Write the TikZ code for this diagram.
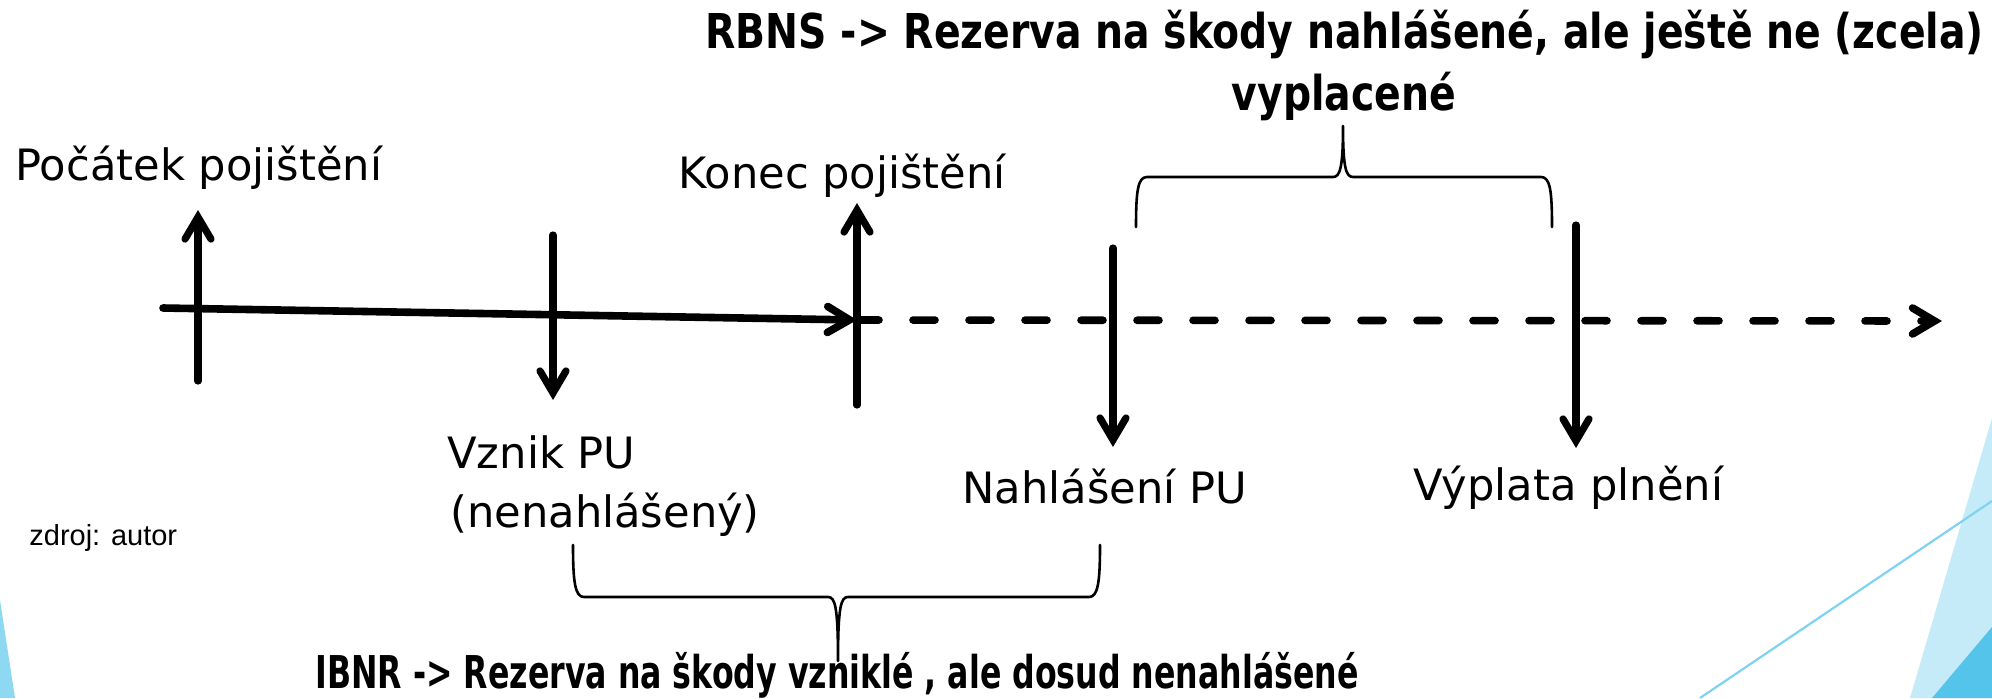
\documentclass[tikz,border=0pt]{standalone}
\usepackage{fontspec}
\setmainfont{DejaVu Sans}
\newfontfamily\headfont{DejaVu Sans}[FakeStretch=0.82]
\newfontfamily\footheadfont{DejaVu Sans}[FakeStretch=0.70]
\newfontfamily\notefont{Liberation Sans}
\usetikzlibrary{arrows.meta}

\definecolor{wedgelight}{HTML}{C6EBF8}
\definecolor{wedgedark}{HTML}{54C4EA}
\definecolor{wedgeline}{HTML}{7FD3F0}
\definecolor{wedgeleft}{HTML}{8ED8F1}

\begin{document}
\begin{tikzpicture}[x=0.5pt,y=-0.5pt,
  barb/.tip={Straight Barb[length=11pt,width=13pt,line cap=round,line join=miter]},
  axisline/.style={line width=3.8pt,line cap=round,-barb},
  dashline/.style={axisline,dash pattern=on 11pt off 17pt},
  tick/.style={line width=3.6pt,line cap=round},
  tickarrow/.style={tick,-barb},
  bracepath/.style={line width=1.3pt,line cap=round,line join=round},
  event/.style={inner sep=0pt,anchor=base west,font=\fontsize{21.6pt}{26pt}\selectfont},
  heading/.style={inner sep=0pt,font=\headfont\bfseries\fontsize{24pt}{29pt}\selectfont},
  footheading/.style={inner sep=0pt,font=\footheadfont\bfseries\fontsize{22.6pt}{27pt}\selectfont},
  note/.style={inner sep=0pt,anchor=base west,font=\notefont\fontsize{14.5pt}{17pt}\selectfont}]

\useasboundingbox (0,0) rectangle (1992,698);

% corner ornaments
\fill[wedgeleft] (0,600) -- (15,698) -- (0,698) -- cycle;
\fill[wedgelight] (1910,698) -- (1992,418) -- (1992,698) -- cycle;
\fill[wedgedark] (1932,698) -- (1992,627) -- (1992,698) -- cycle;
\draw[wedgeline,line width=1.1pt] (1700,698) -- (1992,501);

% time axis: insured period (solid), afterwards (dashed)
\coordinate (axisstart) at (163,308);
\coordinate (axisend) at (857,320);
\coordinate (axisfar) at (1942,321);
\draw[axisline] (axisstart) -- (axisend);
\draw[dashline] (axisend) -- (axisfar);

% event markers
\coordinate (p1) at (198,381);  \coordinate (p2) at (198,210);
\coordinate (v1) at (553,235);  \coordinate (v2) at (553,400);
\coordinate (k1) at (857,405);  \coordinate (k2) at (857,203);
\coordinate (n1) at (1113,248); \coordinate (n2) at (1113,447);
\coordinate (w1) at (1576,225); \coordinate (w2) at (1576,448);
\draw[tickarrow] (p1) -- (p2);
\draw[tickarrow] (v1) -- (v2);
\draw[tickarrow] (k1) -- (k2);
\draw[tickarrow] (n1) -- (n2);
\draw[tickarrow] (w1) -- (w2);

% event labels
\node[event] (pocatek) at (15,180) {Počátek pojištění};
\node[event] (konec) at (678,188) {Konec pojištění};
\node[event] (vznik) at (447,468) {Vznik PU};
\node[event] (vznikb) at (450,527) {(nenahlášený)};
\node[event] (nahlaseni) at (962,503) {Nahlášení PU};
\node[event] (vyplata) at (1413,500) {Výplata plnění};
\node[note] (zdroj) at (29,545) {zdroj: autor};

% RBNS brace (over the reported-but-unpaid span)
\draw[bracepath] (1136,227) .. controls (1136,190) and (1138,177) .. (1147,177)
  -- (1333,177) .. controls (1340,177) and (1343,168) .. (1343,126)
  .. controls (1343,168) and (1346,177) .. (1353,177)
  -- (1541,177) .. controls (1550,177) and (1552,190) .. (1552,227);
\node[heading,anchor=base west] (rbns) at (705,48) {RBNS -> Rezerva na škody nahlášené, ale ještě ne (zcela)};
\node[heading,anchor=base] (rbnsb) at (1344,110) {vyplacené};

% IBNR brace (under the incurred-but-not-reported span)
\draw[bracepath] (573,545) .. controls (573,582) and (575,597) .. (584,597)
  -- (828,597) .. controls (835,597) and (838,606) .. (838,661)
  .. controls (838,606) and (841,597) .. (848,597)
  -- (1089,597) .. controls (1098,597) and (1100,582) .. (1100,545);
\node[footheading,anchor=base west] (ibnr) at (315,688) {IBNR -> Rezerva na škody vzniklé , ale dosud nenahlášené};

\end{tikzpicture}
\end{document}
